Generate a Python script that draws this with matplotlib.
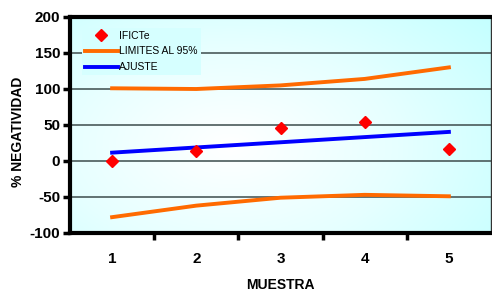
import numpy as np
import matplotlib.pyplot as plt
from matplotlib.colors import LinearSegmentedColormap

muestras = [1, 2, 3, 4, 5]
ificte = [0, 14, 46, 54, 16]
limite_sup = [101, 100, 105, 114, 130]
limite_inf = [-78, -62, -51, -47, -49]
ajuste = [11.6, 18.8, 26.0, 33.2, 40.4]
y_ticks = [-100, -50, 0, 50, 100, 150, 200]

plt.rcParams['font.family'] = ['Liberation Sans', 'DejaVu Sans']
plt.rcParams['axes.unicode_minus'] = False

fig = plt.figure(figsize=(4.92, 2.91), dpi=100)
ax = fig.add_axes([70 / 492, 58 / 291, 421 / 492, 216 / 291])

# fondo degradado (cian en bordes, blanco en el centro)
gx, gy = np.meshgrid(np.linspace(0, 1, 300), np.linspace(0, 1, 200))
dist = np.sqrt(((gx - 0.38) / 0.75) ** 2 + ((gy - 0.4) / 0.9) ** 2)
dist = np.clip(dist / dist.max(), 0, 1)
cmap = LinearSegmentedColormap.from_list('fondo', ['#ffffff', '#e6ffff', '#c4ffff'])
ax.imshow(dist, cmap=cmap, extent=[0, 1, 0, 1], transform=ax.transAxes,
          origin='lower', aspect='auto', zorder=0)

for v in y_ticks[1:-1]:
    ax.axhline(v, color='#4a5a5a', lw=1.2, zorder=1)

ax.plot(muestras, ificte, linestyle='none', marker='D', color='red', ms=6.5,
        label='IFICTe', zorder=4)
ax.plot(muestras, limite_sup, color='#ff6a00', lw=2.8, label='LIMITES AL 95%', zorder=3)
ax.plot(muestras, limite_inf, color='#ff6a00', lw=2.8, zorder=3)
ax.plot(muestras, ajuste, color='#0000ff', lw=2.8, label='AJUSTE', zorder=3)

ax.set_xlim(0.5, 5.5)
ax.set_ylim(-100, 200)
ax.set_yticks(y_ticks)
ax.set_xticks(muestras)
ax.set_xticks([1.5, 2.5, 3.5, 4.5], minor=True)
ax.tick_params(axis='x', which='major', length=0, pad=14)
ax.tick_params(axis='x', which='minor', length=5, width=2.5, direction='out')
ax.tick_params(axis='y', length=5, width=2.5, direction='out', pad=2)
for lbl in ax.get_xticklabels() + ax.get_yticklabels():
    lbl.set_fontweight('bold')
    lbl.set_fontsize(11)

for s in ['left', 'bottom', 'top']:
    ax.spines[s].set_linewidth(3)
ax.spines['right'].set_linewidth(1)
ax.spines['right'].set_color('#333333')

ax.set_xlabel('MUESTRA', fontsize=10, fontweight='bold', labelpad=8)
ax.set_ylabel('% NEGATIVIDAD', fontsize=10, fontweight='bold')
ax.yaxis.set_label_coords(-0.107, 0.47)

leg = ax.legend(loc='upper left', bbox_to_anchor=(0.015, 0.975), fontsize=7.5,
                frameon=True, facecolor='#d6ffff', edgecolor='none', framealpha=1,
                handlelength=3.2, handletextpad=0.1, labelspacing=0.55,
                borderpad=0.3, fancybox=False)
leg.set_zorder(5)

fig.savefig('out.png', dpi=100)
